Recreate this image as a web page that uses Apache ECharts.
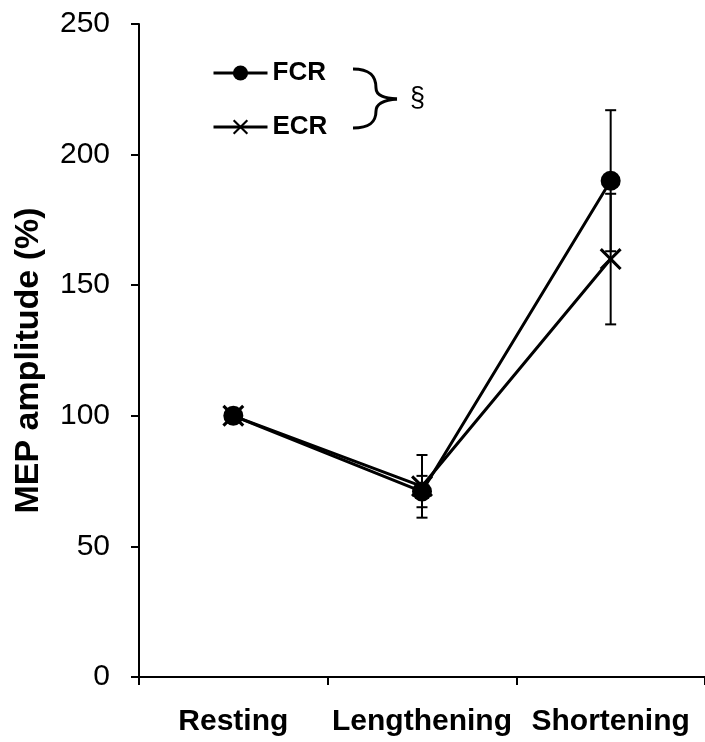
<!DOCTYPE html>
<html>
<head>
<meta charset="utf-8">
<script src="https://cdn.jsdelivr.net/npm/echarts@6/dist/echarts.min.js"></script>
<style>
html, body { margin: 0; padding: 0; background: #fff; }
#chart { width: 705px; height: 742px; }
</style>
</head>
<body>
<div id="chart"></div>
<script>
var conditions = ["Resting", "Lengthening", "Shortening"];
var fcrMean = [100, 71, 190];
var fcrErr = [0, 6, 27];
var ecrMean = [100, 73, 160];
var ecrErr = [0, 12, 25];
var yTicks = [0, 50, 100, 150, 200, 250];

var crossPath = "path://M0,1L1,0L5,4L9,0L10,1L6,5L10,9L9,10L5,6L1,10L0,9L4,5Z";

function errData(mean, err) {
    var out = [];
    for (var i = 0; i < mean.length; i++) {
        if (err[i] > 0) out.push([i, mean[i] - err[i], mean[i] + err[i]]);
    }
    return out;
}

function renderErr(params, api) {
    var lo = api.coord([api.value(0), api.value(1)]);
    var hi = api.coord([api.value(0), api.value(2)]);
    var w = 5.5;
    var st = { stroke: "#000", lineWidth: 2 };
    return {
        type: "group",
        children: [
            { type: "line", shape: { x1: lo[0], y1: lo[1], x2: hi[0], y2: hi[1] }, style: st },
            { type: "line", shape: { x1: lo[0] - w, y1: lo[1], x2: lo[0] + w, y2: lo[1] }, style: st },
            { type: "line", shape: { x1: hi[0] - w, y1: hi[1], x2: hi[0] + w, y2: hi[1] }, style: st }
        ]
    };
}

// brace next to legend
function brace(a, b, c, d) {
    return {
        type: "bezierCurve",
        shape: { x1: a[0], y1: a[1], cpx1: b[0], cpy1: b[1], cpx2: c[0], cpy2: c[1], x2: d[0], y2: d[1] },
        style: { stroke: "#000", lineWidth: 3, fill: null }
    };
}

var myChart = echarts.init(document.getElementById("chart"));
var opt = {
    backgroundColor: "#fff",
    animation: false,
    grid: { left: 139, top: 24, width: 570, height: 653 },
    legend: {
        orient: "vertical",
        left: 212,
        top: 60,
        padding: 0,
        itemWidth: 54,
        itemHeight: 19,
        itemGap: 28,
        data: ["FCR", "ECR"],
        lineStyle: { width: 3 },
        textStyle: { fontFamily: "Liberation Sans", fontWeight: "bold", fontSize: 26, color: "#000" }
    },
    xAxis: {
        type: "category",
        data: conditions,
        boundaryGap: true,
        axisLine: { lineStyle: { color: "#000", width: 2 } },
        axisTick: { show: true, interval: 0, length: 8, lineStyle: { color: "#000", width: 2 } },
        axisLabel: { interval: 0, margin: 30, fontFamily: "Liberation Sans", fontWeight: "bold", fontSize: 30, color: "#000" }
    },
    yAxis: {
        type: "value",
        min: 0,
        max: 250,
        interval: 50,
        name: "MEP amplitude (%)",
        nameLocation: "middle",
        nameGap: 93,
        nameTextStyle: { fontFamily: "Liberation Sans", fontWeight: "bold", fontSize: 34, color: "#000", padding: [0, 20, 0, 0] },
        splitLine: { show: false },
        axisLine: { show: true, lineStyle: { color: "#000", width: 2 } },
        axisTick: { show: true, length: 8, lineStyle: { color: "#000", width: 2 } },
        axisLabel: {
            margin: 29,
            fontFamily: "Liberation Sans",
            fontSize: 30,
            color: "#000",
            formatter: function (v) { return yTicks.indexOf(v) >= 0 ? String(v) : ""; }
        }
    },
    graphic: [
        brace([353, 69], [370, 69], [376, 76], [376, 88]),
        brace([376, 88], [376, 96], [385, 98], [397, 99]),
        brace([397, 99], [385, 100], [376, 103], [376, 111]),
        brace([376, 111], [376, 122], [370, 128], [353, 128]),
        {
            type: "text",
            left: 410,
            top: 85,
            style: { text: "§", font: "27px 'Liberation Sans'", fill: "#000" }
        }
    ],
    series: [
        {
            name: "ECR_err",
            type: "custom",
            renderItem: renderErr,
            data: errData(ecrMean, ecrErr),
            z: 1
        },
        {
            name: "FCR_err",
            type: "custom",
            renderItem: renderErr,
            data: errData(fcrMean, fcrErr),
            z: 1
        },
        {
            name: "FCR",
            type: "line",
            data: fcrMean,
            symbol: "circle",
            symbolSize: 20,
            lineStyle: { color: "#000", width: 3 },
            itemStyle: { color: "#000" },
            z: 3
        },
        {
            name: "ECR",
            type: "line",
            data: ecrMean,
            symbol: crossPath,
            symbolSize: 22,
            lineStyle: { color: "#000", width: 3 },
            itemStyle: { color: "#000" },
            z: 3
        }
    ]
};
myChart.setOption(opt);
</script>
</body>
</html>
